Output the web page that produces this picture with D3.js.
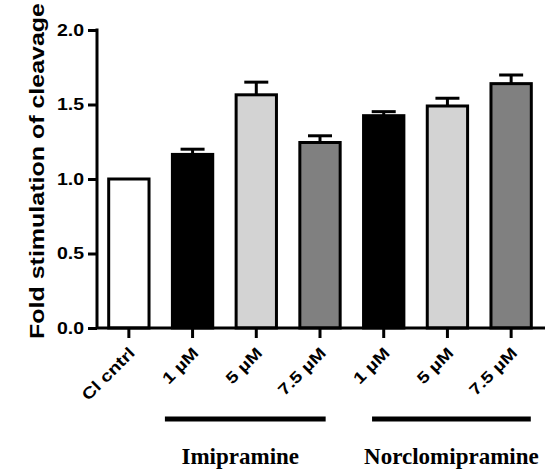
<!DOCTYPE html>
<html lang="en">
<head>
<meta charset="utf-8">
<title>Fold stimulation of cleavage</title>
<script src="https://cdn.jsdelivr.net/npm/d3@7"></script>
<style>
  html, body { margin: 0; padding: 0; background: #fff; }
  svg { display: block; }
</style>
</head>
<body>
<script>
// chart data
var categories = ["Cl cntrl", "1 \u00b5M", "5 \u00b5M", "7.5 \u00b5M", "1 \u00b5M", "5 \u00b5M", "7.5 \u00b5M"];
var values = [1.00, 1.165, 1.565, 1.245, 1.425, 1.49, 1.64];
var errors = [0, 0.035, 0.085, 0.045, 0.027, 0.052, 0.058];
var fills = ["#ffffff", "#000000", "#d3d3d3", "#808080", "#000000", "#d3d3d3", "#808080"];
var yTicks = [0.0, 0.5, 1.0, 1.5, 2.0];
var groups = [
  {name: "Imipramine", from: 1, to: 3},
  {name: "Norclomipramine", from: 4, to: 6}
];

var width = 550, height = 473;
var sansFont = "Liberation Sans, Arial, sans-serif";
var svg = d3.select("body").append("svg")
    .attr("width", width)
    .attr("height", height);

var x = d3.scaleBand()
    .domain(d3.range(categories.length))
    .range([97, 543])
    .paddingInner(0.32)
    .paddingOuter(0.16);

var y = d3.scaleLinear()
    .domain([0, 2])
    .range([328, 30]);

var cx = function(i){ return x(i) + x.bandwidth() / 2; };

var rows = values.map(function(v, i){ return {i: i, v: v, e: errors[i]}; });

// bars
svg.selectAll("rect.bar")
    .data(rows)
  .enter().append("rect")
    .attr("class", "bar")
    .attr("x", function(d){ return x(d.i) + 1.5; })
    .attr("width", x.bandwidth() - 3)
    .attr("y", function(d){ return y(d.v); })
    .attr("height", function(d){ return y(0) - y(d.v); })
    .attr("fill", function(d){ return fills[d.i]; })
    .attr("stroke", "#000")
    .attr("stroke-width", 3);

// error bars (upper only)
var eb = svg.selectAll("g.err")
    .data(rows.filter(function(d){ return d.e > 0; }))
  .enter().append("g")
    .attr("class", "err");

eb.append("line")
    .attr("x1", function(d){ return cx(d.i); })
    .attr("x2", function(d){ return cx(d.i); })
    .attr("y1", function(d){ return y(d.v); })
    .attr("y2", function(d){ return y(d.v + d.e); })
    .attr("stroke", "#000")
    .attr("stroke-width", 3);

eb.append("line")
    .attr("x1", function(d){ return cx(d.i) - 12; })
    .attr("x2", function(d){ return cx(d.i) + 12; })
    .attr("y1", function(d){ return y(d.v + d.e); })
    .attr("y2", function(d){ return y(d.v + d.e); })
    .attr("stroke", "#000")
    .attr("stroke-width", 3);

// y axis
var yAxis = svg.append("g")
    .attr("transform", "translate(97,0)")
    .call(d3.axisLeft(y).tickValues(yTicks).tickFormat(d3.format(".1f")).tickSize(9).tickPadding(4));
yAxis.select(".domain").attr("d", "M0," + y(0) + "V" + (y(2) - 1.5));

// x axis
var xAxis = svg.append("g")
    .attr("transform", "translate(0," + y(0) + ")")
    .call(d3.axisBottom(x).tickFormat(function(i){ return categories[i]; }).tickSize(10).tickSizeOuter(0));
xAxis.select(".domain").attr("d", "M97,0H545");

svg.selectAll(".domain, .tick line")
    .attr("stroke", "#000")
    .attr("stroke-width", 3);

svg.selectAll(".tick text")
    .attr("font-family", sansFont)
    .attr("font-weight", "bold")
    .attr("font-size", 16)
    .attr("fill", "#000");

// glyphs in the reference run wider than Arial: stretch along the text
yAxis.selectAll(".tick text")
    .attr("x", null)
    .attr("transform", "translate(-13,0) scale(1.22,1)");

xAxis.selectAll(".tick text")
    .attr("text-anchor", "end")
    .attr("dy", null)
    .attr("y", 0)
    .attr("transform", "translate(7,26) rotate(-45) scale(1.22,1)");

// y title
svg.append("text")
    .attr("transform", "translate(44,171) rotate(-90) scale(1.25,1)")
    .attr("text-anchor", "middle")
    .attr("font-family", sansFont)
    .attr("font-weight", "bold")
    .attr("font-size", 20)
    .text("Fold stimulation of cleavage");

// group bars and names
var offsets = [[-6, -16], [10, -2]];
groups.forEach(function(g, k){
  var x0 = x(g.from) + offsets[k][0];
  var x1 = x(g.to) + x.bandwidth() + offsets[k][1];
  svg.append("line")
      .attr("x1", x0).attr("x2", x1)
      .attr("y1", 419).attr("y2", 419)
      .attr("stroke", "#000")
      .attr("stroke-width", 5);
  svg.append("text")
      .attr("x", (x0 + x1) / 2 - (k === 0 ? 5 : 0))
      .attr("y", 464)
      .attr("text-anchor", "middle")
      .attr("font-family", "Liberation Serif, Times New Roman, serif")
      .attr("font-weight", "bold")
      .attr("font-size", 23)
      .text(g.name);
});
</script>
</body>
</html>
